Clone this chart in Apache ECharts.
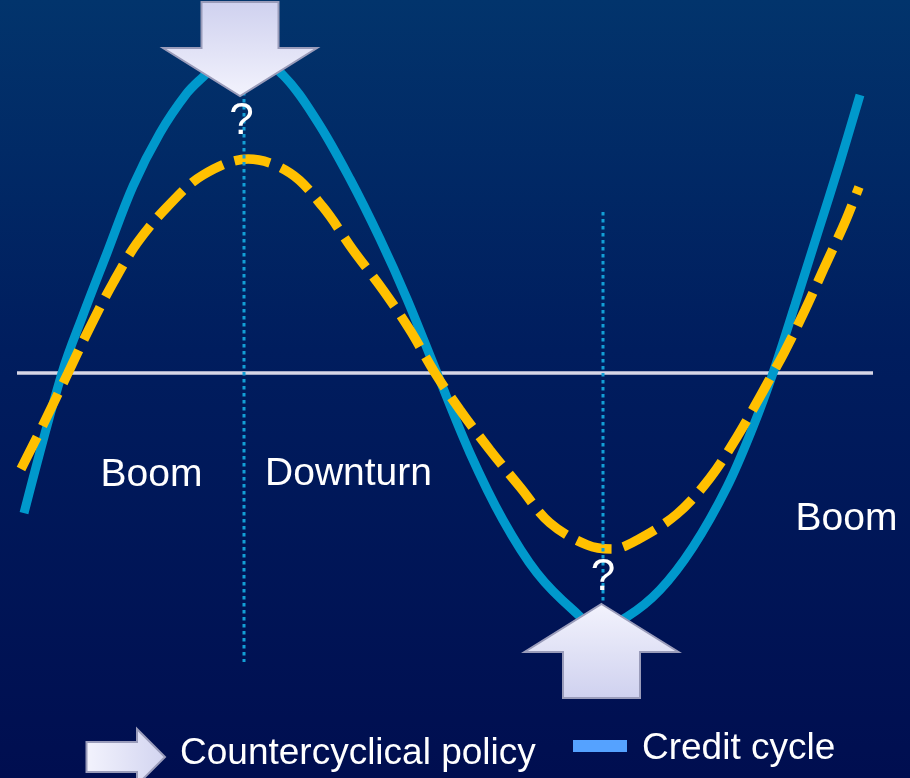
<!DOCTYPE html>
<html>
<head>
<meta charset="utf-8">
<script src="https://cdn.jsdelivr.net/npm/echarts@6/dist/echarts.min.js"></script>
<style>
  html, body { margin: 0; padding: 0; background: #000e50; }
  #chart { width: 910px; height: 778px; }
</style>
</head>
<body>
<div id="chart"></div>
<script>
// Time runs left to right in arbitrary units; levels are deviations from trend.
const creditX = [2.4, 6.2, 8.3, 10.7, 13.3, 16.0, 18.7, 20.3, 21.0, 24.5, 28.3, 31.7, 35.0, 38.0, 40.7, 43.7,
                 47.0, 50.3, 53.7, 57.3, 60.0, 62.7, 66.0, 69.3, 72.7, 75.3, 77.3, 79.5, 81.8, 84.0, 86.0];
const creditY = [-46.7, 0, 19.3, 40.0, 62.3, 80.0, 93.3, 98.7, 100.7, 107.7, 99.3, 84.0, 64.7, 44.7, 24.7, 0,
                 -26.7, -49.0, -66.7, -79.0, -85.0, -81.3, -72.3, -58.0, -38.0, -18.0, 0, 22.7, 47.0, 70.3, 92.7];

// Cycle once countercyclical policy leans against it (dampened).
const policyX = [2.1, 4.2, 6.8, 9.0, 11.3, 13.7, 16.7, 20.3, 24.8, 29.0, 32.3, 35.3, 38.3, 41.0, 43.5,
                 46.0, 49.0, 52.0, 55.0, 58.7, 61.2, 63.7, 67.7, 71.0, 73.7, 76.1, 77.3, 78.4, 80.5, 82.5, 84.5, 85.9];
const policyY = [-32.0, -18.0, 0, 15.3, 30.0, 43.3, 55.3, 66.0, 71.3, 66.7, 55.3, 41.0, 27.7, 14.3, 0,
                 -12.3, -25.7, -38.0, -50.0, -57.3, -58.7, -55.7, -47.0, -35.0, -21.3, -7.3, 0, 6.7, 21.0, 35.7, 50.3, 62.0];

// Turning points of the credit cycle with their dotted guides.
const turningX = [24.4, 60.3];
const guideTop = [124, 53.7];
const guideBottom = [-96.3, -77];

// Countercyclical policy arrows: tip position and direction (-1 down, 1 up).
const arrowX = [24.0, 60.15];
const arrowTipY = [92.3, -77.0];
const arrowDir = [-1, 1];

// Trend line.
const trendFrom = 1.7, trendTo = 87.3;

// Phase labels.
const phaseNames = ['Boom', 'Downturn', 'Boom'];
const phaseX = [15.15, 34.85, 84.65];
const phaseY = [-34.0, -33.8, -48.6];

const legendNames = ['Countercyclical policy', 'Credit cycle'];

const FONT = '"Liberation Sans", Arial, sans-serif';
const chart = echarts.init(document.getElementById('chart'), null, { renderer: 'canvas' });

const pairs = (xs, ys) => xs.map((x, i) => [x, ys[i]]);

function arrowFill(dir) {
  // lighter at the tail, slightly deeper lavender at the tip
  const light = '#f3f3fd', deep = '#cfd1ef';
  return new echarts.graphic.LinearGradient(0, 0, 0, 1,
    dir < 0 ? [{ offset: 0, color: light }, { offset: 1, color: deep }]
            : [{ offset: 0, color: deep }, { offset: 1, color: light }]);
}

const option = {
  animation: false,
  backgroundColor: {
    type: 'linear', x: 0, y: 0, x2: 0, y2: 1,
    colorStops: [
      { offset: 0, color: '#02346c' },
      { offset: 0.45, color: '#001d5e' },
      { offset: 1, color: '#000e50' }
    ]
  },
  grid: { left: 0, right: 0, top: 1, bottom: 33 },
  xAxis: { type: 'value', min: 0, max: 91, show: false },
  yAxis: { type: 'value', min: -124, max: 124, show: false },
  series: [
    {
      // trend (zero) line
      type: 'custom',
      z: 1,
      data: [[trendFrom, 0, trendTo, 0]],
      renderItem: (params, api) => {
        const a = api.coord([api.value(0), api.value(1)]);
        const b = api.coord([api.value(2), api.value(3)]);
        return { type: 'line', shape: { x1: a[0], y1: a[1], x2: b[0], y2: b[1] },
                 style: { stroke: '#d6d6e6', lineWidth: 3.5 } };
      }
    },
    {
      name: 'Credit cycle',
      type: 'line',
      z: 2,
      data: pairs(creditX, creditY),
      smooth: 0.35,
      showSymbol: false,
      clip: false,
      lineStyle: { color: '#0099cc', width: 9, cap: 'butt' },
      itemStyle: { color: '#55a2ff' }
    },
    {
      name: 'Dampened cycle',
      type: 'line',
      z: 3,
      data: pairs(policyX, policyY),
      smooth: 0.35,
      showSymbol: false,
      clip: false,
      lineStyle: { color: '#ffc000', width: 9.5, type: [36, 12], cap: 'butt' }
    },
    {
      // dotted guides at peak and trough
      type: 'custom',
      z: 4,
      data: turningX.map((x, i) => [x, guideTop[i], guideBottom[i]]),
      renderItem: (params, api) => {
        const a = api.coord([api.value(0), api.value(1)]);
        const b = api.coord([api.value(0), api.value(2)]);
        return { type: 'line', shape: { x1: a[0], y1: a[1], x2: b[0], y2: b[1] },
                 style: { stroke: '#139fd6', lineWidth: 3, lineDash: [3.5, 3.5] } };
      }
    },
    {
      // policy arrows with question marks
      type: 'custom',
      z: 5,
      data: arrowX.map((x, i) => [x, arrowTipY[i], arrowDir[i]]),
      renderItem: (params, api) => {
        const tip = api.coord([api.value(0), api.value(1)]);
        const s = api.value(2);
        const x = tip[0], y = tip[1];
        const headLen = 48, headHalf = 77, shaftHalf = 38.5, total = 94;
        const pts = [
          [x, y],
          [x + headHalf, y + s * headLen],
          [x + shaftHalf, y + s * headLen],
          [x + shaftHalf, y + s * total],
          [x - shaftHalf, y + s * total],
          [x - shaftHalf, y + s * headLen],
          [x - headHalf, y + s * headLen]
        ];
        return {
          type: 'group',
          children: [
            { type: 'polygon', shape: { points: pts },
              style: { fill: arrowFill(-s), stroke: '#9a9cba', lineWidth: 2 } },
            { type: 'text', x: x + 1.5, y: y - s * 26,
              style: { text: '?', fill: '#ffffff', font: '44px ' + FONT,
                       align: 'center', verticalAlign: 'middle' } }
          ]
        };
      }
    },
    {
      // phase labels
      type: 'scatter',
      z: 6,
      symbolSize: 0,
      itemStyle: { opacity: 1 },
      data: phaseNames.map((n, i) => ({ name: n, value: [phaseX[i], phaseY[i]] })),
      label: {
        show: true, position: 'inside', formatter: '{b}', opacity: 1,
        color: '#ffffff', fontSize: 39, fontFamily: FONT
      }
    }
  ],
  graphic: [
    {
      type: 'group',
      children: [
        { type: 'polygon',
          shape: { points: [[86.5, 742], [137, 742], [137, 729], [165, 757], [137, 785], [137, 772], [86.5, 772]] },
          style: {
            fill: new echarts.graphic.LinearGradient(0, 0, 1, 0,
              [{ offset: 0, color: '#f3f3fd' }, { offset: 1, color: '#d2d4f0' }]),
            stroke: '#9a9cba', lineWidth: 2
          } },
        { type: 'text', x: 180, y: 754,
          style: { text: legendNames[0], fill: '#ffffff', font: '37px ' + FONT, verticalAlign: 'middle' } },
        { type: 'rect', shape: { x: 573, y: 740, width: 54, height: 12 },
          style: { fill: '#55a2ff' } },
        { type: 'text', x: 642, y: 749,
          style: { text: legendNames[1], fill: '#ffffff', font: '37px ' + FONT, verticalAlign: 'middle' } }
      ]
    }
  ]
};

chart.setOption(option);
</script>
</body>
</html>
